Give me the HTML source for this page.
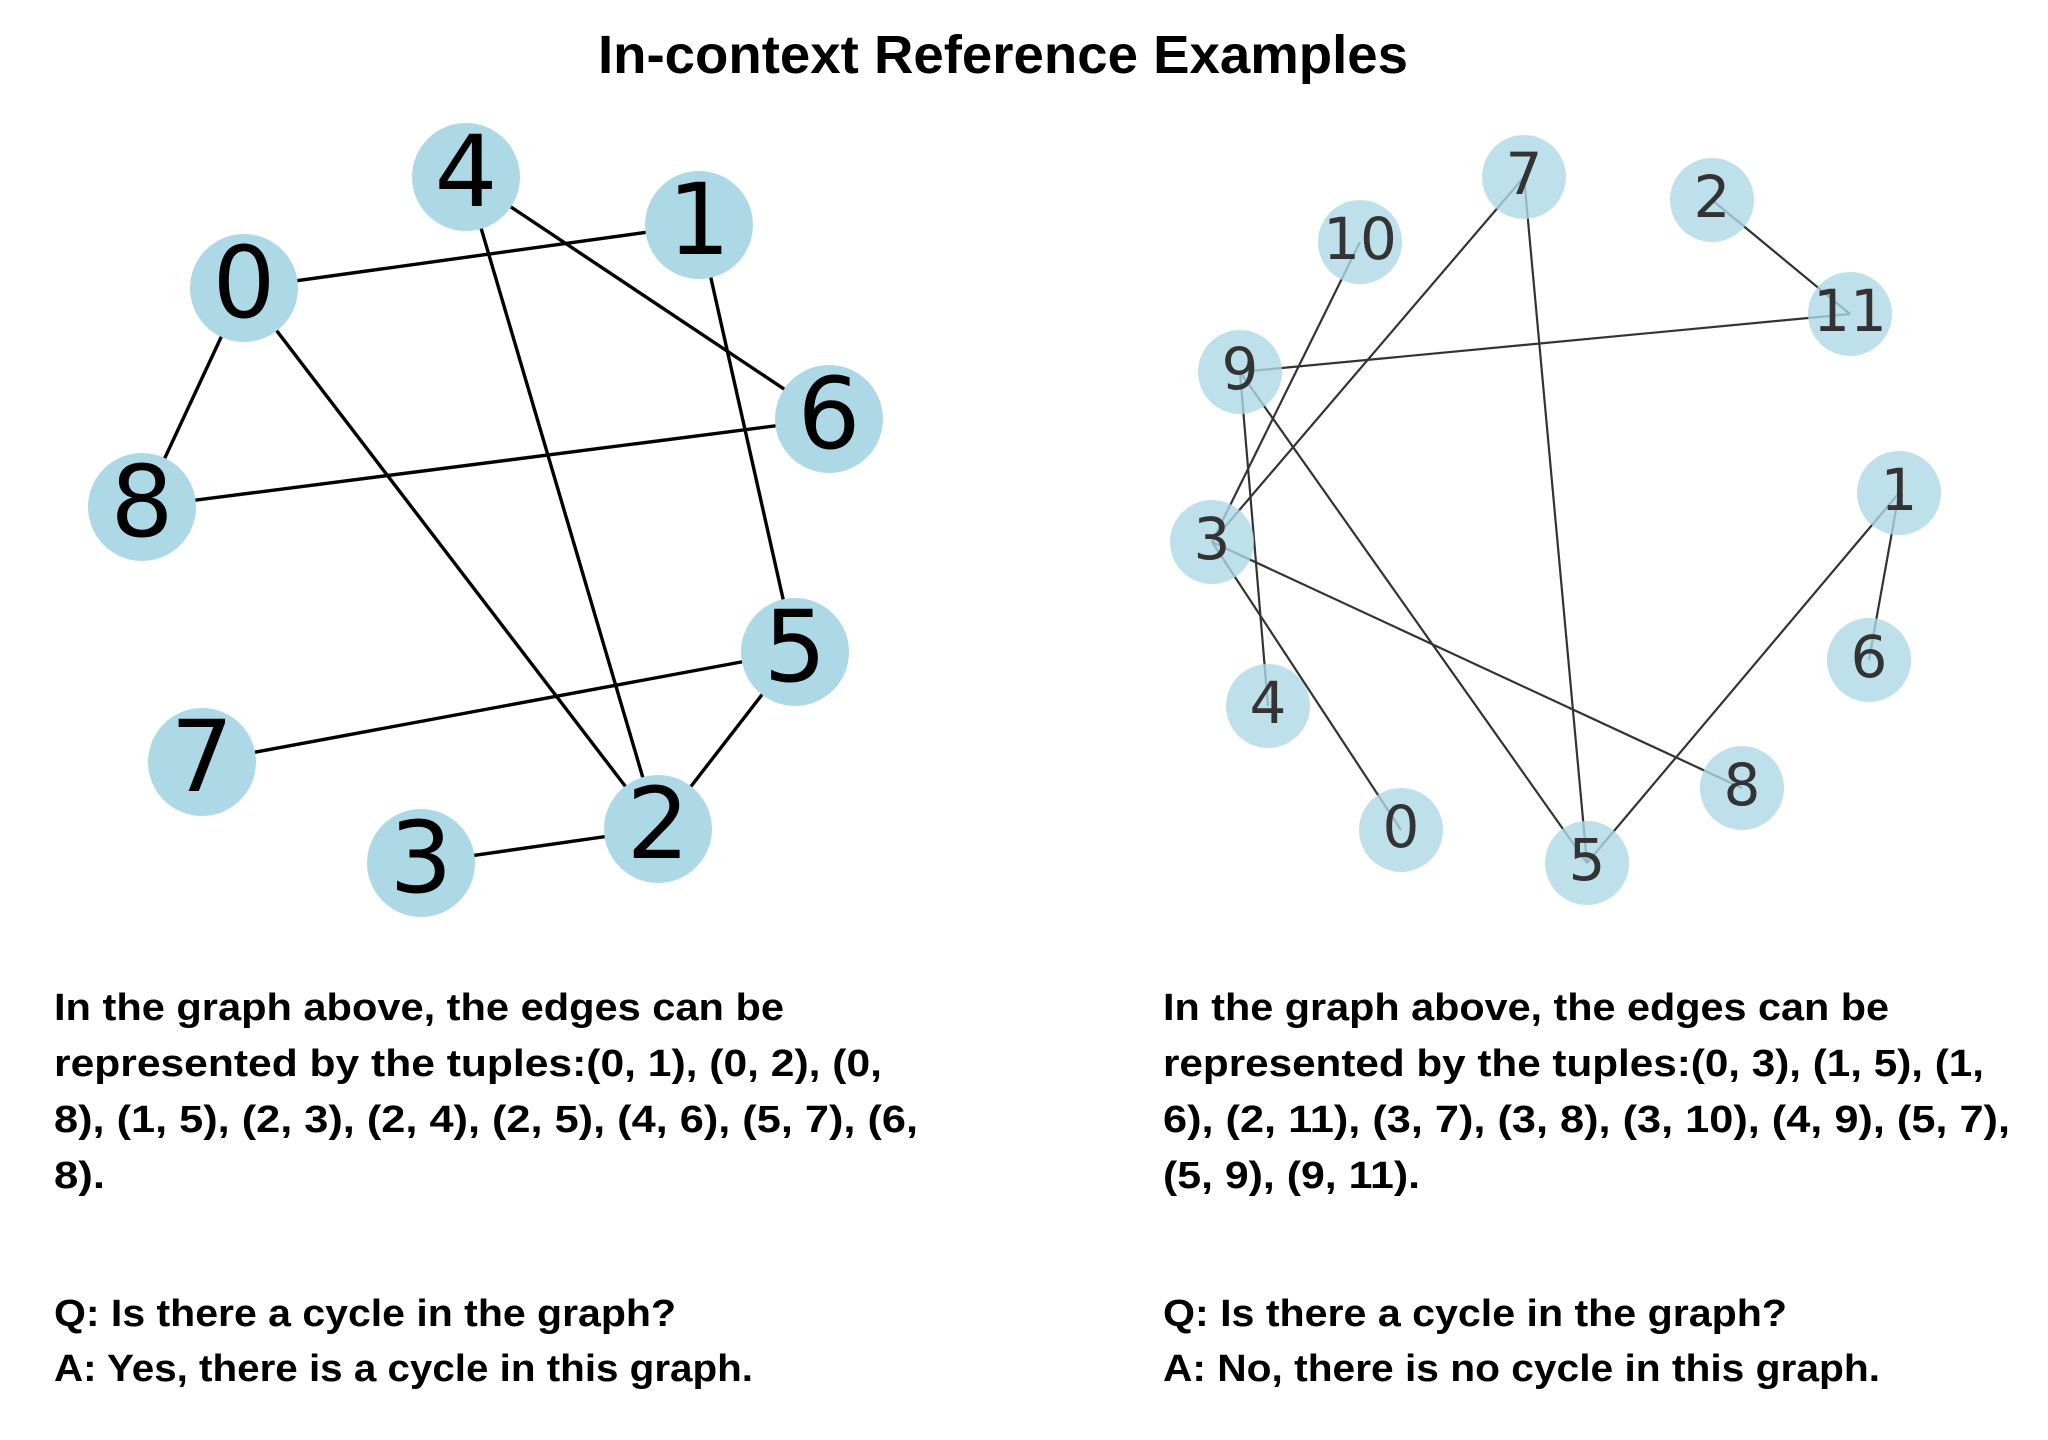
<!DOCTYPE html>
<html><head><meta charset="utf-8"><style>html,body{margin:0;padding:0;background:#fff}svg{display:block}</style></head>
<body>
<svg width="2048" height="1440" viewBox="0 0 2048 1440" xmlns="http://www.w3.org/2000/svg">
<rect width="2048" height="1440" fill="#fff"/>
<text x="598" y="73" font-family="Liberation Sans, sans-serif" font-weight="bold" font-size="54" textLength="810" lengthAdjust="spacingAndGlyphs">In-context Reference Examples</text>

<g stroke="#000" stroke-width="3.4">
<line x1="244" y1="288" x2="699" y2="225"/>
<line x1="244" y1="288" x2="658" y2="829"/>
<line x1="244" y1="288" x2="142" y2="507"/>
<line x1="699" y1="225" x2="795" y2="652"/>
<line x1="658" y1="829" x2="421" y2="863"/>
<line x1="658" y1="829" x2="466" y2="177"/>
<line x1="658" y1="829" x2="795" y2="652"/>
<line x1="466" y1="177" x2="829" y2="419"/>
<line x1="795" y1="652" x2="202" y2="762"/>
<line x1="829" y1="419" x2="142" y2="507"/>
</g>
<g fill="#add8e6">
<circle cx="466" cy="177" r="54"/>
<circle cx="699" cy="225" r="54"/>
<circle cx="244" cy="288" r="54"/>
<circle cx="829" cy="419" r="54"/>
<circle cx="142" cy="507" r="54"/>
<circle cx="795" cy="652" r="54"/>
<circle cx="202" cy="762" r="54"/>
<circle cx="658" cy="829" r="54"/>
<circle cx="421" cy="863" r="54"/>
</g>
<g font-family="DejaVu Sans, sans-serif" font-size="99" text-anchor="middle" fill="#000">
<text x="466" y="206">4</text>
<text x="699" y="254">1</text>
<text x="244" y="317">0</text>
<text x="829" y="448">6</text>
<text x="142" y="536">8</text>
<text x="795" y="681">5</text>
<text x="202" y="791">7</text>
<text x="658" y="858">2</text>
<text x="421" y="892">3</text>
</g>

<g stroke="#333" stroke-width="2.2">
<line x1="1401" y1="830" x2="1212" y2="542"/>
<line x1="1899" y1="493" x2="1587" y2="863"/>
<line x1="1899" y1="493" x2="1869" y2="660"/>
<line x1="1712" y1="200" x2="1850" y2="314"/>
<line x1="1212" y1="542" x2="1524" y2="177"/>
<line x1="1212" y1="542" x2="1742" y2="788"/>
<line x1="1212" y1="542" x2="1360" y2="242"/>
<line x1="1268" y1="706" x2="1240" y2="372"/>
<line x1="1587" y1="863" x2="1524" y2="177"/>
<line x1="1587" y1="863" x2="1240" y2="372"/>
<line x1="1240" y1="372" x2="1850" y2="314"/>
</g>
<g fill="#add8e6" fill-opacity="0.8">
<circle cx="1524" cy="177" r="42"/>
<circle cx="1712" cy="200" r="42"/>
<circle cx="1360" cy="242" r="42"/>
<circle cx="1850" cy="314" r="42"/>
<circle cx="1240" cy="372" r="42"/>
<circle cx="1899" cy="493" r="42"/>
<circle cx="1212" cy="542" r="42"/>
<circle cx="1869" cy="660" r="42"/>
<circle cx="1268" cy="706" r="42"/>
<circle cx="1742" cy="788" r="42"/>
<circle cx="1401" cy="830" r="42"/>
<circle cx="1587" cy="863" r="42"/>
</g>
<g font-family="DejaVu Sans, sans-serif" font-size="58" text-anchor="middle" fill="#333">
<text x="1524" y="194">7</text>
<text x="1712" y="217">2</text>
<text x="1360" y="259">10</text>
<text x="1850" y="331">11</text>
<text x="1240" y="389">9</text>
<text x="1899" y="510">1</text>
<text x="1212" y="559">3</text>
<text x="1869" y="677">6</text>
<text x="1268" y="723">4</text>
<text x="1742" y="805">8</text>
<text x="1401" y="847">0</text>
<text x="1587" y="880">5</text>
</g>

<g font-family="Liberation Sans, sans-serif" font-weight="bold" font-size="38" fill="#000">
<text x="54" y="1020" textLength="730" lengthAdjust="spacingAndGlyphs">In the graph above, the edges can be</text>
<text x="54" y="1076" textLength="828" lengthAdjust="spacingAndGlyphs">represented by the tuples:(0, 1), (0, 2), (0,</text>
<text x="54" y="1132" textLength="864" lengthAdjust="spacingAndGlyphs">8), (1, 5), (2, 3), (2, 4), (2, 5), (4, 6), (5, 7), (6,</text>
<text x="54" y="1188" textLength="51" lengthAdjust="spacingAndGlyphs">8).</text>
<text x="54" y="1326" textLength="622" lengthAdjust="spacingAndGlyphs">Q: Is there a cycle in the graph?</text>
<text x="54" y="1381" textLength="699" lengthAdjust="spacingAndGlyphs">A: Yes, there is a cycle in this graph.</text>

<text x="1163" y="1020" textLength="726" lengthAdjust="spacingAndGlyphs">In the graph above, the edges can be</text>
<text x="1163" y="1076" textLength="821" lengthAdjust="spacingAndGlyphs">represented by the tuples:(0, 3), (1, 5), (1,</text>
<text x="1163" y="1132" textLength="847" lengthAdjust="spacingAndGlyphs">6), (2, 11), (3, 7), (3, 8), (3, 10), (4, 9), (5, 7),</text>
<text x="1163" y="1188" textLength="257" lengthAdjust="spacingAndGlyphs">(5, 9), (9, 11).</text>
<text x="1163" y="1326" textLength="624" lengthAdjust="spacingAndGlyphs">Q: Is there a cycle in the graph?</text>
<text x="1163" y="1381" textLength="717" lengthAdjust="spacingAndGlyphs">A: No, there is no cycle in this graph.</text>
</g>
</svg>
</body></html>
